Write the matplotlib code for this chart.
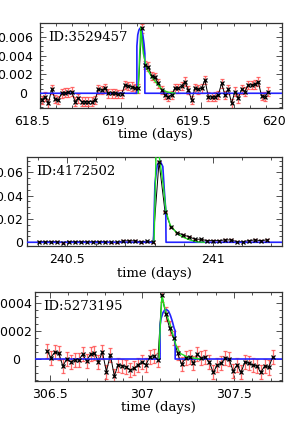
import matplotlib
matplotlib.use('Agg')
import matplotlib.pyplot as plt
from matplotlib.ticker import MultipleLocator
from matplotlib.transforms import ScaledTranslation

# ---- panel 1: ID 3529457 ----
t1_start, t1_step = 618.5105, 0.02065
flux1 = [-0.00071, -0.00035, -0.00106, 0.00042, -0.00063, -0.00071, 0.0, 0.00007,
         0.0001, 0.00018, -0.00088, -0.00053, -0.00088, -0.00088, -0.00088, -0.00088,
         -0.00071, 0.00042, 0.00035, 0.00053, 0.0, 0.0, 0.0, -0.0001, -0.00007,
         0.00088, 0.00078, 0.00071, 0.00053, 0.00053, 0.00688, 0.003, 0.00282,
         0.00183, 0.00169, 0.00106, 0.00035, -0.00018, -0.00035, -0.00018, 0.00053,
         0.00053, 0.00078, 0.00123, 0.00035, -0.00071, 0.00053, 0.00042, 0.00053,
         0.00141, -0.00035, -0.00042, -0.00035, -0.00018, 0.00106, -0.00018, 0.00042,
         -0.00106, 0.00018, -0.00053, 0.00042, 0.00018, 0.00088, 0.00088, 0.00095,
         0.00123, -0.00028, -0.00035, 0.00018]
err1 = 0.00045
blue1_t = [618.4, 619.1005, 619.1005, 619.106, 619.113, 619.120, 619.1245, 619.131, 619.138,
           619.145, 619.150, 619.150, 620.1]
blue1_v = [0, 0, 0.0050, 0.0062, 0.0067, 0.0069, 0.0069, 0.0067, 0.0061, 0.0052, 0.0042, 0, 0]
green1_t = [619.109, 619.110, 619.1245, 619.1405, 619.161, 619.192, 619.223, 619.254,
            619.285, 619.337]
green1_v = [0, 0.0010, 0.0070, 0.0042, 0.00265, 0.00176, 0.00106, 0.00045, 0.00015, 0.0]

# ---- panel 2: ID 4172502 ----
t2_start, t2_step = 240.405, 0.0205
flux2 = [0.0005, 0.0005, 0.0005, 0.0005, -0.0003, 0.0005, 0.0005, 0.0005, 0.0005, 0.0005,
         0.0005, 0.0005, 0.0, 0.0, 0.0012, 0.0012, 0.0012, 0.0003, 0.0010, 0.0003,
         0.0691, 0.0263, 0.0129, 0.0083, 0.0063, 0.0048, 0.0026, 0.0026, 0.0014, 0.0014,
         0.0014, 0.002, 0.002, 0.0005, 0.0005, 0.0014, 0.002, 0.0014, 0.002]
err2 = 0.0005
blue2_t = [240.3, 240.796, 240.801, 240.809, 240.818, 240.828, 240.833, 240.838, 240.839, 241.3]
blue2_v = [0, 0, 0.0506, 0.0663, 0.070, 0.0649, 0.0449, 0.0277, 0, 0]
green2_t = [240.798, 240.805, 240.808, 240.812, 240.818, 240.830, 240.839, 240.853,
            240.876, 240.898, 240.921, 240.944, 240.97]
green2_v = [0, 0.079, 0.085, 0.079, 0.070, 0.0477, 0.0263, 0.0149, 0.0077, 0.0043, 0.002,
            0.0004, 0]

# ---- panel 3: ID 5273195 ----
t3_start, t3_step = 306.485, 0.0215
flux3 = [0.000057, 0.00001, 0.00005, 0.00004, -0.00005, 0.0, -0.00002, -0.000005,
         -0.000007, 0.000033, -0.000014, 0.000035, 0.00004, -0.00002, 0.00005, -0.00009,
         0.00003, -0.00012, -0.00004, -0.000047, -0.000054, -0.000078, -0.000066,
         -0.00004, -0.00002, -0.00004, 0.000017, 0.000024, -0.000007,
         0.000454, 0.000317, 0.000218, 0.000147, 0.00004, -0.000038, 0.00001, 0.000017,
         -0.00003, 0.000033, 0.000005, 0.000012, -0.000024, -0.000095, -0.000043, -0.00003,
         0.00001, 0.0, -0.000085, -0.000043, -0.000095, -0.00002, -0.00003, -0.000043,
         -0.00005, -0.000095, -0.000047, -0.00006, 0.000017]
err3 = 0.00005
blue3_t = [306.3, 307.099, 307.099, 307.105, 307.115, 307.125, 307.135, 307.145, 307.155,
           307.165, 307.175, 307.181, 307.181, 307.9]
blue3_v = [0, 0, 0.00024, 0.00029, 0.00033, 0.00035, 0.00035, 0.00034, 0.00031, 0.00027,
           0.00022, 0.0002, 0, 0]
green3_t = [307.094, 307.095, 307.109, 307.127, 307.154, 307.172, 307.185, 307.208,
            307.244, 307.29, 307.32]
green3_v = [0, 0.0001, 0.00045, 0.000348, 0.000241, 0.000159, 0.0001, 0.00004, 0.000017,
            0.000005, 0]

panels = [
    dict(id='ID:3529457', t0=t1_start, dt=t1_step, flux=flux1, err=err1,
         bt=blue1_t, bv=blue1_v, gt=green1_t, gv=green1_v,
         xlim=(618.5, 620.0), ylim=(-0.00153, 0.00742), xmin=0.1, ymin=0.0005,
         yticks=[0, 0.002, 0.004, 0.006], ylabels=['0', '0.002', '0.004', '0.006'],
         xticks=[618.5, 619, 619.5, 620], xlabels=['618.5', '619', '619.5', '620'],
         rect=[40, 23.3, 282, 107.7], lab_dx=-8, xlab_x=0.477, ypad=5, zero_dx=-6),
    dict(id='ID:4172502', t0=t2_start, dt=t2_step, flux=flux2, err=err2,
         bt=blue2_t, bv=blue2_v, gt=green2_t, gv=green2_v,
         xlim=(240.363, 241.236), ylim=(-0.0032, 0.0731), xmin=0.1, ymin=0.005,
         yticks=[0, 0.02, 0.04, 0.06], ylabels=['0', '0.02', '0.04', '0.06'],
         xticks=[240.5, 241], xlabels=['240.5', '241'],
         rect=[27, 157, 282, 246], lab_dx=0, xlab_x=0.5, ypad=3, zero_dx=0),
    dict(id='ID:5273195', t0=t3_start, dt=t3_step, flux=flux3, err=err3,
         bt=blue3_t, bv=blue3_v, gt=green3_t, gv=green3_v,
         xlim=(306.42, 307.761), ylim=(-0.000154, 0.000478), xmin=0.1, ymin=0.00005,
         yticks=[0, 0.0002, 0.0004], ylabels=['0', '0.0002', '0.0004'],
         xticks=[306.5, 307, 307.5], xlabels=['306.5', '307', '307.5'],
         rect=[35, 291.7, 282, 380.7], lab_dx=0, xlab_x=0.5, ypad=2, zero_dx=-12),
]

W, H = 298, 424
fig = plt.figure(figsize=(W / 100, H / 100), dpi=100)

for p in panels:
    x0, y0, x1, y1 = p['rect']
    ax = fig.add_axes([x0 / W, 1 - y1 / H, (x1 - x0) / W, (y1 - y0) / H])
    t = [p['t0'] + i * p['dt'] for i in range(len(p['flux']))]

    ax.errorbar(t, p['flux'], yerr=p['err'], fmt='none', ecolor='#ff4a4a', alpha=0.8,
                elinewidth=0.9, capsize=1.6, capthick=0.9, zorder=2)
    ax.plot(t, p['flux'], color='black', lw=0.7, zorder=3)
    ax.plot(p['bt'], p['bv'], color='#2222ff', lw=1.2, zorder=4)
    ax.plot(p['gt'], p['gv'], color='#22e022', lw=1.0, zorder=5)
    ax.plot(t, p['flux'], ls='none', marker='x', ms=3.2, mew=0.9, color='black', zorder=6)

    ax.set_xlim(*p['xlim'])
    ax.set_ylim(*p['ylim'])
    ax.set_xticks(p['xticks'])
    ax.set_xticklabels(p['xlabels'])
    ax.set_yticks(p['yticks'])
    ax.set_yticklabels(p['ylabels'])
    ax.xaxis.set_minor_locator(MultipleLocator(p['xmin']))
    ax.yaxis.set_minor_locator(MultipleLocator(p['ymin']))
    ax.tick_params(which='both', direction='in', top=True, right=True,
                   labelsize=9, width=0.6, color='#333333')
    ax.tick_params(which='major', length=4)
    ax.tick_params(which='minor', length=2)
    ax.tick_params(axis='x', pad=5)
    ax.tick_params(axis='y', pad=p['ypad'])
    for s in ax.spines.values():
        s.set_linewidth(0.9)
        s.set_color('#333333')

    # nudge tick labels to where the reference prints them
    if p['lab_dx']:
        off = ScaledTranslation(p['lab_dx'] / 100, 0, fig.dpi_scale_trans)
        for lab in ax.get_xticklabels():
            lab.set_transform(lab.get_transform() + off)
    zl = ax.get_yticklabels()[0]
    zl.set_transform(zl.get_transform() + ScaledTranslation(p['zero_dx'] / 100, 0, fig.dpi_scale_trans))

    ax.set_xlabel('time (days)', family='DejaVu Serif', fontsize=9.5)
    ax.xaxis.set_label_coords(p['xlab_x'], -27 / (y1 - y0))
    ax.xaxis.label.set_va('center')
    ax.text(0.035, 0.835, p['id'], transform=ax.transAxes, family='DejaVu Serif',
            fontsize=9.5, va='center', ha='left')

plt.savefig('out.png', dpi=100)
